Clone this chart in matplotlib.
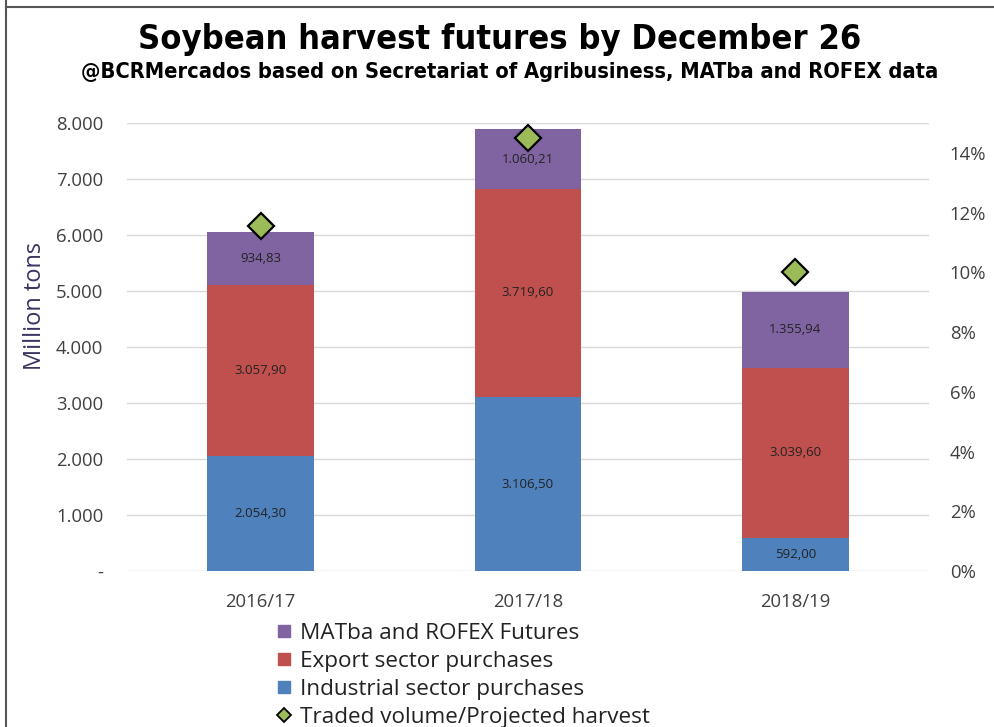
import matplotlib
matplotlib.use("Agg")
import matplotlib.pyplot as plt
from matplotlib.lines import Line2D
from matplotlib.ticker import FuncFormatter
import numpy as np

seasons = ["2016/17", "2017/18", "2018/19"]
industrial = [2054.30, 3106.50, 592.00]
export = [3057.90, 3719.60, 3039.60]
futures = [934.83, 1060.21, 1355.94]
traded_pct = [11.55, 14.5, 10.0]

left_ticks = [0, 1000, 2000, 3000, 4000, 5000, 6000, 7000, 8000]
right_ticks = [0, 2, 4, 6, 8, 10, 12, 14]

c_ind = "#4F81BD"
c_exp = "#C0504D"
c_fut = "#8064A2"
c_dia = "#9BBB59"

fig = plt.figure(figsize=(9.95, 7.27), dpi=100)
ax = fig.add_axes([127/995, 1-571/727, (929-127)/995, (571-123)/727])

x = np.arange(len(seasons))
w = 0.40
ax.bar(x, industrial, w, color=c_ind, zorder=2)
ax.bar(x, export, w, bottom=industrial, color=c_exp, zorder=2)
bot3 = [a + b for a, b in zip(industrial, export)]
ax.bar(x, futures, w, bottom=bot3, color=c_fut, zorder=2)

def fmt_es(v):
    s = f"{v:,.2f}"
    return s.replace(",", "X").replace(".", ",").replace("X", ".")

for i in range(len(x)):
    for base, val in [(0, industrial[i]), (industrial[i], export[i]), (bot3[i], futures[i])]:
        yc = base + val / 2
        ax.text(x[i], yc, fmt_es(val), ha="center", va="center", fontsize=9.5,
                color="#222222", family="Open Sans", zorder=3)

ax.set_xlim(-0.5, 2.5)
ax.set_ylim(0, 8000)
ax.set_yticks(left_ticks)
ax.yaxis.set_major_formatter(FuncFormatter(lambda v, p: "-" if v == 0 else f"{int(v):,}".replace(",", ".")))
ax.set_xticks(x)
ax.set_xticklabels(seasons)
ax.grid(axis="y", color="#D9D9D9", linewidth=1, zorder=0)
for s in ax.spines.values():
    s.set_visible(False)
ax.tick_params(axis="y", length=0, labelsize=13.3, labelcolor="#404040", pad=17)
ax.tick_params(axis="x", length=0, labelsize=13.3, labelcolor="#404040", pad=16)
for t in ax.get_xticklabels() + ax.get_yticklabels():
    t.set_family("Open Sans")
fig.text(35/995, 1-306/727, "Million tons", rotation=90, ha="center", va="center",
         fontsize=17, color="#3B3363", family="Open Sans")

ax2 = ax.twinx()
ax2.set_ylim(0, 15)
ax2.set_yticks(right_ticks)
ax2.yaxis.set_major_formatter(FuncFormatter(lambda v, p: f"{int(v)}%"))
ax2.tick_params(axis="y", length=0, labelsize=13.3, labelcolor="#404040", pad=15)
for t in ax2.get_yticklabels():
    t.set_family("Open Sans")
for s in ax2.spines.values():
    s.set_visible(False)
ax2.plot(x, traded_pct, linestyle="none", marker="D", markersize=13,
         markerfacecolor=c_dia, markeredgecolor="black", markeredgewidth=1.6, zorder=5)

t1 = fig.text(0.502, 1-39/727, "Soybean harvest futures by December 26", ha="center", va="center",
              fontsize=28, fontweight="bold", family="DejaVu Sans", fontstretch="condensed",
              color="black")
t2 = fig.text(0.512, 1-72/727, "@BCRMercados based on Secretariat of Agribusiness, MATba and ROFEX data",
              ha="center", va="center", fontsize=16, fontweight="bold", family="DejaVu Sans",
              fontstretch="condensed", color="black")
r = fig.canvas.get_renderer()
for t, target in [(t1, 722), (t2, 860)]:
    wpx = t.get_window_extent(r).width
    t.set_fontsize(t.get_fontsize() * target / wpx)

handles = [
    Line2D([], [], linestyle="none", marker="s", markersize=8, markerfacecolor=c_fut, markeredgecolor=c_fut),
    Line2D([], [], linestyle="none", marker="s", markersize=8, markerfacecolor=c_exp, markeredgecolor=c_exp),
    Line2D([], [], linestyle="none", marker="s", markersize=8, markerfacecolor=c_ind, markeredgecolor=c_ind),
    Line2D([], [], linestyle="none", marker="D", markersize=7, markerfacecolor=c_dia, markeredgecolor="black", markeredgewidth=1.3),
]
labels = ["MATba and ROFEX Futures", "Export sector purchases",
          "Industrial sector purchases", "Traded volume/Projected harvest"]
leg = fig.legend(handles, labels, loc="upper left", bbox_to_anchor=(266/995, 1-612/727),
                 frameon=False, prop={"family": "Open Sans", "size": 16.2},
                 handlelength=0.6, handletextpad=0.4, labelspacing=0.31, borderpad=0)
for t in leg.get_texts():
    t.set_color("#222222")

fig.add_artist(Line2D([6/995, 6/995], [0, 1], transform=fig.transFigure, color="#555555", linewidth=1.5))
fig.add_artist(Line2D([6/995, 1], [1-7/727, 1-7/727], transform=fig.transFigure, color="#555555", linewidth=1.5))

fig.savefig("out.png", dpi=100)
